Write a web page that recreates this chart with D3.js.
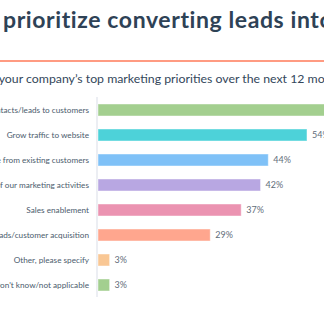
<!DOCTYPE html>
<html>
<head>
<meta charset="utf-8">
<script src="https://cdn.jsdelivr.net/npm/d3@7"></script>
<style>
  html, body { margin: 0; padding: 0; background: #fff; overflow: hidden; }
  svg { display: block; }
</style>
</head>
<body>
<script>
const titleText = "prioritize converting leads into customers";
const subtitlePrefix = "What are ";
const subtitleText = "What are your company\u2019s top marketing priorities over the next 12 months?";
const categories = [
  "Convert contacts/leads to customers",
  "Grow traffic to website",
  "Increase revenue from existing customers",
  "Prove the ROI of our marketing activities",
  "Sales enablement",
  "Reduce the cost of contacts/leads/customer acquisition",
  "Other, please specify",
  "Don't know/not applicable"
];
const values = [70, 54, 44, 42, 37, 29, 3, 3];
const colors = ["#a3cf8f", "#4dd2d9", "#7fc1f7", "#b8a7e2", "#eb93b1", "#ffa68e", "#f9c794", "#a3cf8f"];

const W = 324, H = 335;
const svg = d3.select("body").append("svg").attr("width", W).attr("height", H);

// Title
svg.append("text")
  .attr("x", 3).attr("y", 28)
  .attr("font-family", "Lato, sans-serif")
  .attr("font-weight", 700)
  .attr("font-size", 23)
  .attr("letter-spacing", 0.6)
  .attr("fill", "#2e4256")
  .text(titleText);

// Orange rule
svg.append("line")
  .attr("x1", 0).attr("x2", W)
  .attr("y1", 61).attr("y2", 61)
  .attr("stroke", "#ff7a59").attr("stroke-width", 1.6);

// Subtitle
const subFont = 12.3;
const sub = svg.append("text")
  .attr("y", 83)
  .attr("font-family", "Lato, sans-serif")
  .attr("font-size", subFont)
  .attr("fill", "#33475b")
  .text(subtitleText);
const meas = svg.append("text")
  .attr("font-family", "Lato, sans-serif")
  .attr("font-size", subFont)
  .style("white-space", "pre")
  .text(subtitlePrefix);
const prefW = meas.node().getComputedTextLength();
meas.remove();
sub.attr("x", -1 - prefW);

// Scales
const x = d3.scaleLinear().domain([0, 100]).range([98, 485]);
const y = d3.scaleBand().domain(categories).range([97.5, 297.5]).paddingInner(0.52).paddingOuter(0.26);

// Axis line
svg.append("line")
  .attr("x1", 97).attr("x2", 97)
  .attr("y1", 97).attr("y2", 297)
  .attr("stroke", "#dfe3eb").attr("stroke-width", 1.2);

// Bars
svg.append("g").selectAll("rect").data(categories).join("rect")
  .attr("x", x(0))
  .attr("y", d => y(d))
  .attr("width", (d, i) => x(values[i]) - x(0))
  .attr("height", y.bandwidth())
  .attr("fill", (d, i) => colors[i])
  .attr("stroke", "rgba(255,255,255,0.45)")
  .attr("stroke-width", 1);

// Category labels
svg.append("g").selectAll("text").data(categories).join("text")
  .attr("x", 89)
  .attr("y", d => y(d) + y.bandwidth() / 2)
  .attr("dy", "0.35em")
  .attr("text-anchor", "end")
  .attr("font-family", "Lato, sans-serif")
  .attr("font-size", 8.2)
  .attr("fill", "#4b5c6d")
  .text(d => d);

// Value labels
svg.append("g").selectAll("text").data(categories).join("text")
  .attr("x", (d, i) => x(values[i]) + 5)
  .attr("y", d => y(d) + y.bandwidth() / 2)
  .attr("dy", "0.35em")
  .attr("font-family", "Lato, sans-serif")
  .attr("font-size", 9)
  .attr("fill", "#5f6d7a")
  .text((d, i) => values[i] + "%");
</script>
</body>
</html>
